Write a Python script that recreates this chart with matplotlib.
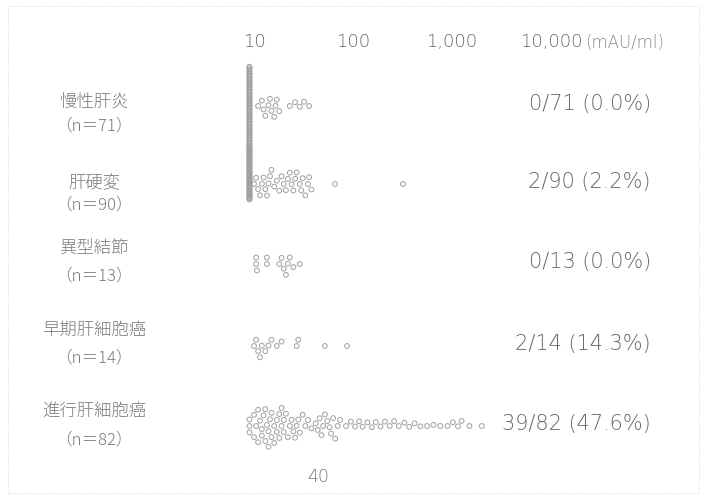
import numpy as np
import matplotlib
matplotlib.use("Agg")
import matplotlib.pyplot as plt
import matplotlib.transforms as mtransforms
from matplotlib.patches import Rectangle

plt.rcParams['font.family'] = ['Noto Sans CJK JP', 'DejaVu Sans']

# ---------------- data ----------------
groups = ["慢性肝炎", "肝硬変", "異型結節", "早期肝細胞癌", "進行肝細胞癌"]
n_labels = ["（n＝71）", "（n＝90）", "（n＝13）", "（n＝14）", "（n＝82）"]
positive = ["0/71 (0.0%)", "2/90 (2.2%)", "0/13 (0.0%)", "2/14 (14.3%)", "39/82 (47.6%)"]

chronic_hepatitis = [9] * 55 + [11, 12, 12.5, 13, 14, 14.5, 15, 16, 16.5, 17, 18] + [23, 26, 29, 32, 36]
cirrhosis = [9] * 58 + [10, 10.5, 11, 11.5, 12, 12.5, 13, 13.5, 14, 14.5, 15, 16,
                        17, 18, 19, 20, 21, 22, 23, 24, 25, 26, 27, 29, 30, 31] \
    + [33, 35, 36, 38] + [66, 320]
dysplastic_nodule = [10.7, 10.5, 10.5, 13.5, 13.5, 18, 19, 20, 21, 22, 23, 25, 29]
early_hcc = [10, 10.5, 11, 11.5, 12, 13, 14, 15, 17, 19, 27, 28, 52, 87]
advanced_hcc = [9, 9, 9, 10, 10, 10.5, 11, 11, 11.5, 12, 12, 12.5, 13, 13, 13.5, 14, 14, 14.5, 15, 15,
                16, 16, 17, 17, 18, 18, 19, 19, 20, 20, 21, 22, 23, 24, 25, 26, 27, 28, 29, 31, 33, 35, 38] \
    + [42, 44, 46, 48, 50, 52, 55, 58, 60, 63, 66, 70, 74] \
    + [85, 95, 105, 115, 125, 140, 155, 170, 190, 210, 235, 260, 290, 330, 370, 420, 480, 560, 650] \
    + [760, 900, 1020, 1150, 1250, 1500, 2000]
series = [chronic_hepatitis, cirrhosis, dysplastic_nodule, early_hcc, advanced_hcc]

tick_values = [10, 100, 1000, 10000]
tick_labels = ["10", "100", "1,000", "10,000"]
cutoff = 40

# ---------------- layout ----------------
W, H = 705, 501
fig = plt.figure(figsize=(W / 100, H / 100), dpi=100)
top_px = 55
ax = fig.add_axes([0, 0, 1, (H - top_px) / H])
px_per_dec = 99.0
x10_px = 254.0
ax.set_xscale('log')
ax.set_xlim(10 ** (1 - x10_px / px_per_dec), 10 ** (1 + (W - x10_px) / px_per_dec))
ax.set_ylim(H, top_px)
for s in ax.spines.values():
    s.set_visible(False)
ax.set_yticks([])
ax.xaxis.set_ticks_position('top')
ax.set_xticks(tick_values)
ax.set_xticklabels(tick_labels)
ax.xaxis.set_minor_locator(matplotlib.ticker.NullLocator())
ax.tick_params(axis='x', length=0, pad=3, labelsize=13, labelcolor='#666666')
for lab in ax.get_xticklabels():
    lab.set_fontfamily(['DejaVu Sans'])
    lab.set_fontweight('light')

centers = [106, 184, 264, 346, 426]
col_span = [80, 54, 40, 40, 40]
col_shift = [0, -11, 0, 0, 0]
name_y = [103, 183, 248, 330, 411]
n_y = [126, 205, 276, 358, 440]


def swarm_offsets(vals, span, shift, d=6.5, col_min=6):
    """Beeswarm in pixel units; large groups of identical values become compressed columns."""
    v = np.asarray(vals, dtype=float)
    xp = px_per_dec * np.log10(v)
    offs = np.zeros(len(v))
    uniq, counts = np.unique(v, return_counts=True)
    placed_x, placed_y = [], []
    col_vals = set(uniq[counts >= col_min])
    for u in col_vals:
        idx = np.where(v == u)[0]
        m = len(idx)
        st = span / m
        for j, i in enumerate(idx):
            offs[i] = shift + (j - (m - 1) / 2) * st
    rest = [i for i in np.argsort(v, kind='stable') if v[i] not in col_vals]
    for i in rest:
        x = xp[i]
        cands = [0.0]
        for px_, py_ in zip(placed_x, placed_y):
            dx = abs(x - px_)
            if dx < d:
                dy = np.sqrt(d * d - dx * dx)
                cands += [py_ + dy + 1e-6, py_ - dy - 1e-6]
        cands = sorted(cands, key=lambda c: (abs(c), c))
        for c in cands:
            ok = all((x - px_) ** 2 + (c - py_) ** 2 >= d * d - 1e-6
                     for px_, py_ in zip(placed_x, placed_y))
            if ok:
                offs[i] = c
                break
        placed_x.append(x)
        placed_y.append(offs[i])
    return offs


for vals, c, sp, sh in zip(series, centers, col_span, col_shift):
    off = swarm_offsets(vals, sp, sh)
    ax.scatter(vals, c + off, s=12, facecolors='none', edgecolors='#a0a0a0', linewidths=0.7, zorder=3)

blend = mtransforms.blended_transform_factory(ax.transAxes, ax.transData)
for g, nl, p, y1, y2, c in zip(groups, n_labels, positive, name_y, n_y, centers):
    ax.text(94 / W, y1, g, transform=blend, ha='center', va='center', fontsize=12.5,
            color='#7a7a7a', fontweight='light')
    ax.text(94 / W, y2, nl, transform=blend, ha='center', va='center', fontsize=12,
            color='#7a7a7a', fontweight='light')
    ax.text(651 / W, c - 2, p, transform=blend, ha='right', va='center', fontsize=15,
            color='#666666', fontweight='light', family=['DejaVu Sans'])

fig.text(585 / W, 1 - 43 / H, "(mAU/ml)", ha='left', va='center', fontsize=12,
         color='#888888', fontweight='light', family=['DejaVu Sans'])
ax.text(cutoff * 1.1, 477, str(cutoff), ha='center', va='center', fontsize=12.5, color='#777777',
        fontweight='light', family=['DejaVu Sans'])

fig.add_artist(Rectangle((8 / W, 8 / H), (W - 14) / W, (H - 14) / H, transform=fig.transFigure,
                         fill=False, edgecolor='#d0d0d0', linestyle=':', linewidth=0.6))

fig.savefig("out.png", dpi=100)
